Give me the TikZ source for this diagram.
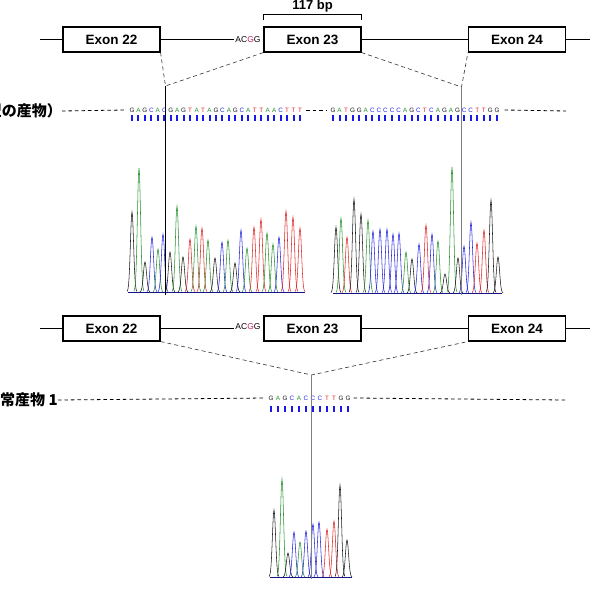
\documentclass[tikz,border=0pt]{standalone}
\usepackage{fontspec}
\setmainfont{Liberation Sans}
\newfontfamily\jpfont{Noto Sans CJK JP}
\usepackage{xcolor}
\usetikzlibrary{positioning,calc}

\definecolor{trG}{RGB}{25,25,25}
\definecolor{trA}{RGB}{40,145,45}
\definecolor{trC}{RGB}{35,35,225}
\definecolor{trT}{RGB}{225,35,35}
\definecolor{barblue}{RGB}{25,25,235}
\definecolor{splG}{RGB}{205,35,110}

% one chromatogram peak per base: x/height/base
\newcommand{\trace}[2]{%
  \foreach \p/\h/\b in {#2} {%
    \draw[tr\b, line width=0.55pt] plot[domain=\p-5:\p+5, samples=21, variable=\t]
      (\t,{#1-\h*exp(-((\t-\p)^2)/5)});
  }%
}
% called bases with quality bars: name, x0, pitch, y, bar y, bases
\newcommand{\seqrow}[6]{%
  \foreach \b [count=\i] in {#6} {%
    \node[seqbase, text=tr\b] (#1-\i) at ({#2+(\i-1)*#3},#4) {\b};
    \fill[barblue] ({#2+(\i-1)*#3-1},#5) rectangle ++(2,6);
  }%
}

\begin{document}
\begin{tikzpicture}[
    x=1pt, y=-1pt,
    exon/.style={rectangle, draw, line width=1.1pt, minimum width=97pt, minimum height=25pt, inner sep=0pt, font=\fontsize{13.5}{15}\selectfont\bfseries},
    gene/.style={line width=0.9pt},
    splice/.style={line width=0.6pt, black!80, dash pattern=on 4pt off 3pt},
    track/.style={line width=0.8pt, dash pattern=on 3.5pt off 3pt},
    cutline/.style={line width=0.7pt},
    seqbase/.style={inner sep=0pt, font=\fontsize{6.3}{6.3}\selectfont},
    acgg/.style={inner sep=1.5pt, font=\fontsize{8.5}{9}\selectfont},
    plabel/.style={anchor=east, inner sep=0pt, font=\jpfont\bfseries\fontsize{15}{15}\selectfont}
]
\useasboundingbox (0,0) rectangle (597,593);

% --- normal product: exon 22-23-24
\node (e22) [exon] at (111.5,39.5) {Exon 22};
\node (e23) [exon] at (312.5,39.5) {Exon 23};
\node (e24) [exon] at (517,39.5) {Exon 24};
\node (acgg1) [acgg] at (248,39.5) {AC\textcolor{splG}{G}G};
\coordinate (g1l) at (40,39.5);
\coordinate (g1r) at (590,39.5);
\draw[gene] (g1l) -- (e22.west);
\draw[gene] (e22.east) -- (acgg1.west);
\draw[gene] (e23.east) -- (e24.west);
\draw[gene] (e24.east) -- (g1r);
\draw[line width=0.6pt] ([yshift=6pt]e23.north west) -- ([yshift=12pt]e23.north west)
  -| node[pos=0.25, above, inner sep=1.5pt, font=\fontsize{13}{15}\selectfont\bfseries] {117 bp} ([yshift=6pt]e23.north east);

\coordinate (j1) at (165.5,86);
\coordinate (j2) at (461.5,87);
\draw[splice] (e22.south east) -- (j1) -- (e23.south west);
\draw[splice] (e23.south east) -- (j2) -- (e24.south west);

\node (lab1) [plabel] at (62,111) {正常産物（野生型の産物）};
\seqrow{sa}{132}{6.46}{110}{115}{G,A,G,C,A,C,G,A,G,T,A,T,A,G,C,A,G,C,A,T,T,A,A,C,T,T,T}
\seqrow{sb}{333}{6.56}{110}{115}{G,A,T,G,G,A,C,C,C,C,C,A,G,C,T,C,A,G,A,G,C,C,T,T,G,G}
\draw[track] (lab1.east) -- ([xshift=-4pt]sa-1.west);
\draw[track] ([xshift=4pt]sa-27.east) -- ([xshift=-4pt]sb-1.west);
\draw[track] ([xshift=5pt]sb-26.east) -- (566,111);

\draw[trC!60!black, line width=0.4pt] (128,292) -- (305,292);
\draw[trC!60!black, line width=0.4pt] (333,293) -- (502,293);
\trace{292}{132/80/G,139/124/A,145/30/G,152/55/C,158/43/A,163/58/C,170/40/G,177/86/A,183/35/G,190/53/T,196/66/A,202/64/T,208/52/A,215/34/G,222/50/C,228/52/A,235/29/G,241/62/C,247/44/A,254/65/T,261/73/T,267/59/A,273/48/A,279/55/C,286/81/T,293/75/T,300/64/T}
\trace{293}{336/66/G,341/75/A,347/56/T,354/94/G,361/79/G,368/73/A,373/62/C,380/64/C,387/64/C,393/59/C,399/60/C,406/41/A,412/34/G,419/49/C,426/68/T,432/59/C,438/52/A,445/19/G,452/126/A,458/35/G,464/47/C,471/71/C,477/50/T,484/63/T,491/93/G,498/36/G}
\coordinate (c1) at (165.5,295);
\coordinate (c2) at (461.5,295);
\draw[cutline, black] (j1) -- (c1);
\draw[cutline, black!50] (j2) -- (c2);

% --- aberrant product 1: exon 23 skipped
\node (f22) [exon] at (111.5,328.5) {Exon 22};
\node (f23) [exon] at (312.5,328.5) {Exon 23};
\node (f24) [exon] at (517,328.5) {Exon 24};
\node (acgg2) [acgg] at (248,327) {AC\textcolor{splG}{G}G};
\coordinate (g2l) at (40,328.5);
\coordinate (g2r) at (590,328.5);
\draw[gene] (g2l) -- (f22.west);
\draw[gene] (f22.east) -- (acgg2.west |- f22.east);
\draw[gene] (f23.east) -- (f24.west);
\draw[gene] (f24.east) -- (g2r);

\coordinate (j3) at (311.5,375);
\draw[splice] (f22.south east) -- (j3) -- (f24.south west);

\node (lab2) [plabel] at (58,400) {異常産物 1};
\seqrow{sc}{271}{7}{398}{406}{G,A,G,C,A,C,C,C,T,T,G,G}
\draw[track] (lab2.east) -- ([xshift=-3pt]sc-1.west);
\draw[track] ([xshift=3pt]sc-12.east) -- (566,400);

\draw[trC!60!black, line width=0.4pt] (270,577) -- (352,577);
\trace{577}{274/67/G,282/98/A,288/24/G,294/45/C,300/35/A,306/46/C,313/53/C,319/55/C,327/48/T,334/56/T,340/92/G,347/37/G}
\coordinate (c3) at (311.5,579);
\draw[cutline, black!50] (j3) -- (c3);

\end{tikzpicture}
\end{document}
